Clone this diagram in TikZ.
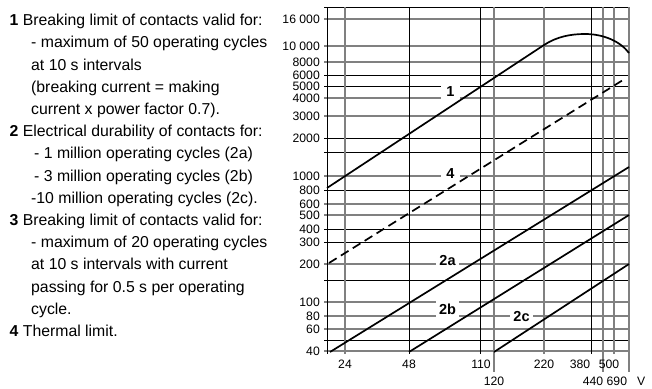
\documentclass[tikz,border=0pt]{standalone}
\usepackage{fontspec}
\setmainfont{Liberation Sans}
\begin{document}
\begin{tikzpicture}[x=1pt,y=-1pt,
  gl/.style={draw=black!50, line width=1.3pt},
  bl/.style={draw=black, line width=0.8pt},
  crv/.style={draw=black, line width=1.7pt},
  legend/.style={anchor=base west, font=\fontsize{15.8}{18}\selectfont, inner sep=0pt},
  ylab/.style={anchor=east, font=\fontsize{12.2}{14}\selectfont, inner sep=0pt},
  xlab/.style={anchor=center, font=\fontsize{12.2}{14}\selectfont, inner sep=0pt},
  clab/.style={font=\bfseries\fontsize{14.5}{16}\selectfont, fill=white, inner sep=0pt}]
\useasboundingbox (0,0) rectangle (652,388);

% legend text
\node[legend] (l1)  at (9.5,25.7)  {\textbf{1} Breaking limit of contacts valid for:};
\node[legend] (l2)  at (31,47.9)   {- maximum of 50 operating cycles};
\node[legend] (l3)  at (31,70.1)   {at 10 s intervals};
\node[legend] (l4)  at (31,92.3)   {(breaking current = making};
\node[legend] (l5)  at (31,114.5)  {current x power factor 0.7).};
\node[legend] (l6)  at (9.5,136.7) {\textbf{2} Electrical durability of contacts for:};
\node[legend] (l7)  at (34,158.9)  {- 1 million operating cycles (2a)};
\node[legend] (l8)  at (34,181.1)  {- 3 million operating cycles (2b)};
\node[legend] (l9)  at (31,203.3)  {-10 million operating cycles (2c).};
\node[legend] (l10) at (9.5,225.5) {\textbf{3} Breaking limit of contacts valid for:};
\node[legend] (l11) at (31,247.7)  {- maximum of 20 operating cycles};
\node[legend] (l12) at (31,269.9)  {at 10 s intervals with current};
\node[legend] (l13) at (31,292.1)  {passing for 0.5 s per operating};
\node[legend] (l14) at (31,314.3)  {cycle.};
\node[legend] (l15) at (9.5,336.5) {\textbf{4} Thermal limit.};

% horizontal grid lines
\foreach \y in {19,46,62,98,116,176,204,215,264,302,316,329,351}
  \draw[gl] (324,\y) -- (629,\y);
\foreach \y in {7,75,86,138,152,190,229,242,280,340}
  \draw[bl] (324,\y) -- (629,\y);
% vertical grid lines
\foreach \x in {345,544,614}
  \draw[gl] (\x,7) -- (\x,354);
\foreach \x in {494,603,629}
  \draw[gl] (\x,7) -- (\x,372);
\foreach \x in {327,409,480,591}
  \draw[bl] (\x,7) -- (\x,354);

% y labels
\foreach \y/\t in {19/16 000,46/10 000,62/8000,75/6000,86/5000,98/4000,116/3000,138/2000,176/1000,190/800,204/600,215/500,229/400,242/300,264/200,302/100,316/80,329/60,351/40}
  \node[ylab] at (320,\y) {\t};

% x labels
\node[xlab] (x24)  at (345,364) {24};
\node[xlab] (x48)  at (409,364) {48};
\node[xlab] (x110) at (481,364) {110};
\node[xlab] (x220) at (544,364) {220};
\node[xlab] (x380) at (580,364) {380};
\node[xlab] (x500) at (609,364) {500};
\node[xlab] (x120) at (494,381) {120};
\node[xlab] (x440) at (593,381) {440};
\node[xlab,anchor=west] (x690) at (606.5,381) {690\hspace{10pt}V};

% curve labels (white boxes leave gaps in grid lines)
\node[clab, minimum width=19pt, minimum height=20pt] (c1) at (450.5,92) {1};
\node[clab, minimum width=19pt, minimum height=14pt] (c4) at (450.5,174) {4};
\node[clab, minimum width=23pt, minimum height=14pt] (c2a) at (447.5,261) {2a};
\node[clab, minimum width=23pt, minimum height=22pt] (c2b) at (447.5,309) {2b};
\node[clab, minimum width=23pt, minimum height=12pt] (c2c) at (521.5,317) {2c};

% curves
\coordinate (a1) at (327,188);
\coordinate (b1) at (544,45);
\coordinate (p1) at (585,34);
\coordinate (e1) at (629,53);
\draw[crv] (a1) -- (b1) .. controls (557,36.5) and (571,34) .. (p1)
  .. controls (603,34) and (620,41) .. (e1);

\coordinate (a4) at (329,263);
\coordinate (e4) at (623,80);
\draw[crv, dash pattern=on 9pt off 5pt] (a4) -- (e4);

\coordinate (a2a) at (330,352);
\coordinate (e2a) at (629,167);
\draw[crv] (a2a) -- (e2a);

\coordinate (a2b) at (409,352);
\coordinate (e2b) at (629,215);
\draw[crv] (a2b) -- (e2b);

\coordinate (a2c) at (494,352);
\coordinate (e2c) at (629,264);
\draw[crv] (a2c) -- (e2c);
\end{tikzpicture}
\end{document}
